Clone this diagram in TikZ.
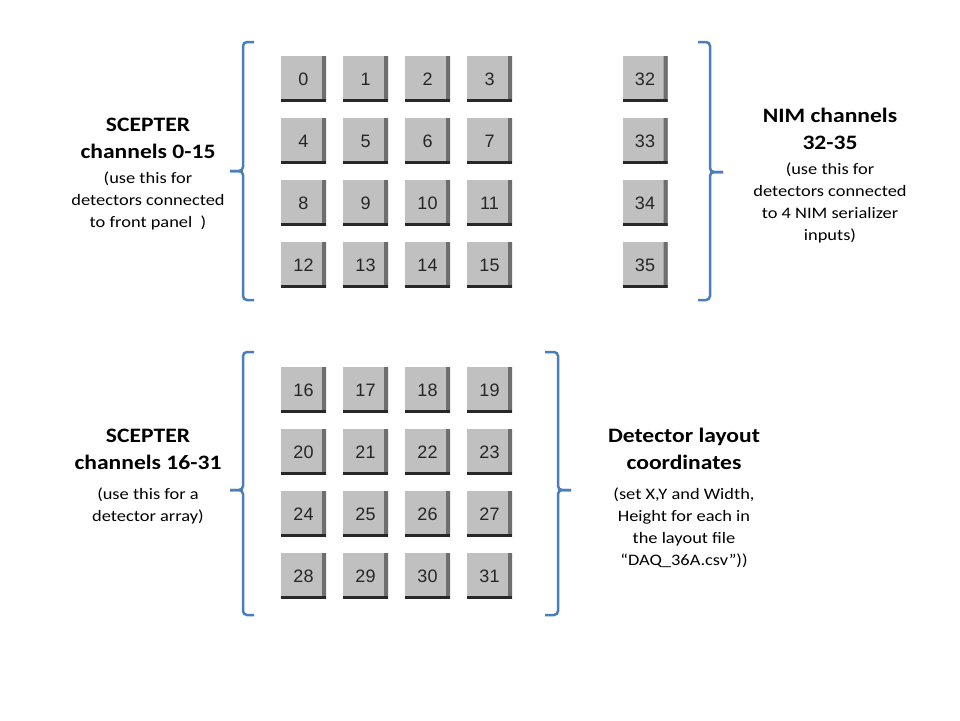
\documentclass[tikz,border=0pt]{standalone}
\usepackage{fontspec}
\setmainfont{Carlito}[FakeStretch=1.15]
\newfontfamily\btnfont{Liberation Sans}
\definecolor{btngray}{RGB}{192,192,192}
\definecolor{btndark}{RGB}{110,110,110}
\definecolor{btnblack}{RGB}{40,40,40}
\definecolor{brkblue}{RGB}{74,126,187}
\begin{document}
\begin{tikzpicture}[x=1pt,y=-1pt,
  btn/.style={minimum width=45pt, minimum height=46pt, inner sep=0pt, fill=btngray,
    font=\btnfont\fontsize{18}{18}\selectfont, text=black!85,
    path picture={
      \fill[btndark] ([xshift=-4pt]path picture bounding box.north east) -- (path picture bounding box.north east) -- (path picture bounding box.south east) -- ([xshift=-4pt,yshift=3pt]path picture bounding box.south east) -- cycle;
      \fill[btnblack] ([yshift=3pt]path picture bounding box.south west) rectangle (path picture bounding box.south east);
    }},
  brk/.style={draw=brkblue, line width=2.5pt, rounded corners=4pt},
  head/.style={font=\bfseries\fontsize{20.5}{27}\selectfont, align=center, inner sep=0pt},
  sub/.style={font=\fontsize{16}{22}\selectfont, align=center, inner sep=0pt}
]
\useasboundingbox (0,0) rectangle (960,720);
\fill[white] (0,0) rectangle (960,720);

% upper grid 0-15
\foreach \r in {0,1,2,3}{
  \foreach \c in {0,1,2,3}{
    \pgfmathtruncatemacro{\n}{4*\r+\c}
    \pgfmathsetmacro{\xx}{303.5+62*\c}
    \pgfmathsetmacro{\yy}{79+62*\r}
    \node[btn] (b\n) at (\xx,\yy) {\n};
  }
}
% NIM column 32-35
\foreach \r in {0,1,2,3}{
  \pgfmathtruncatemacro{\n}{32+\r}
  \pgfmathsetmacro{\yy}{79+62*\r}
  \node[btn] (b\n) at (645,\yy) {\n};
}
% lower grid 16-31
\foreach \r in {0,1,2,3}{
  \foreach \c in {0,1,2,3}{
    \pgfmathtruncatemacro{\n}{16+4*\r+\c}
    \pgfmathsetmacro{\xx}{303.5+62*\c}
    \pgfmathsetmacro{\yy}{390+62*\r}
    \node[btn] (b\n) at (\xx,\yy) {\n};
  }
}

% brackets
\draw[brk] (254,42) -- (243,42) -- (243,171) -- (230,171);
\draw[brk] (230,171) -- (243,171) -- (243,300) -- (254,300);
\draw[brk] (698,42) -- (710,42) -- (710,172) -- (723,172);
\draw[brk] (723,172) -- (710,172) -- (710,300) -- (698,300);
\draw[brk] (254,352) -- (243,352) -- (243,490) -- (230,490);
\draw[brk] (230,490) -- (243,490) -- (243,615) -- (254,615);
\draw[brk] (545,352) -- (558,352) -- (558,490) -- (571,490);
\draw[brk] (571,490) -- (558,490) -- (558,615) -- (545,615);

% texts
\node[head, anchor=north] (t1) at (148,118) {SCEPTER\\channels 0-15};
\node[sub, anchor=north] (s1) at (148,172) {(use this for\\detectors connected\\to front panel\ \ )};

\node[head, anchor=north] (t2) at (830,108) {NIM channels\\32-35};
\node[sub, anchor=north] (s2) at (830,163) {(use this for\\detectors connected\\to 4 NIM serializer\\inputs)};

\node[head, anchor=north] (t3) at (148,429) {SCEPTER\\channels 16-31};
\node[sub, anchor=north] (s3) at (148,488) {(use this for a\\detector array)};

\node[head, anchor=north] (t4) at (684,428) {Detector layout\\coordinates};
\node[sub, anchor=north] (s4) at (684,488) {(set X,Y and Width,\\Height for each in\\the layout file\\“DAQ\_36A.csv”))};
\end{tikzpicture}
\end{document}
